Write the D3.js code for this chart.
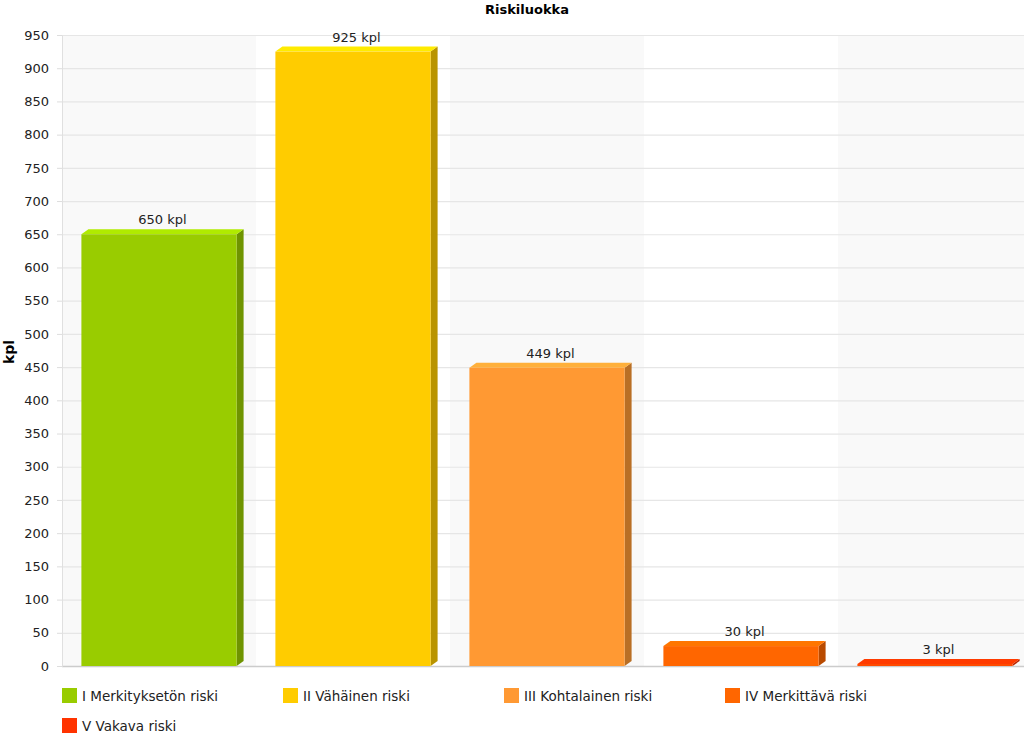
<!DOCTYPE html>
<html>
<head>
<meta charset="utf-8">
<script src="https://cdn.jsdelivr.net/npm/d3@7"></script>
<style>
  body { margin: 0; background: #fff; }
  svg { display: block; font-family: "DejaVu Sans", Verdana, sans-serif; }
</style>
</head>
<body>
<svg id="chart" width="1024" height="741"></svg>
<script>
// Riskiluokka — 3D-tyyliset pylväät
const categories = ['I Merkityksetön riski', 'II Vähäinen riski', 'III Kohtalainen riski', 'IV Merkittävä riski', 'V Vakava riski'];
const values = [650, 925, 449, 30, 3];
const colors = ['#99cc00', '#ffcc00', '#ff9933', '#ff6600', '#ff3300'];
const yTicks = d3.range(0, 951, 50);

const svg = d3.select('#chart');
const W = 1024, H = 741;
const m = { left: 62, top: 35, bottom: 666 };
const depthX = 7, depthY = 5;

const x = d3.scaleBand().domain(categories).range([m.left, 1032]).paddingInner(0.2).paddingOuter(0.1);
const y = d3.scaleLinear().domain([0, 950]).range([m.bottom, m.top]);

// vuorottelevat taustakaistat
const step = x.step();
svg.append('g').selectAll('rect')
  .data(categories)
  .join('rect')
  .attr('x', (d, i) => m.left + i * step)
  .attr('y', m.top)
  .attr('width', step)
  .attr('height', m.bottom - m.top)
  .attr('fill', (d, i) => i % 2 === 0 ? '#f9f9f9' : '#ffffff');

// ruudukko
svg.append('g').selectAll('line')
  .data(yTicks)
  .join('line')
  .attr('x1', m.left).attr('x2', W)
  .attr('y1', d => y(d) + 0.5).attr('y2', d => y(d) + 0.5)
  .attr('stroke', d => d === 0 ? '#cccccc' : '#e6e6e6')
  .attr('stroke-width', d => d === 0 ? 1.5 : 1.2);

// y-akseli
const yAxis = svg.append('g')
  .attr('transform', `translate(${m.left},0)`)
  .call(d3.axisLeft(y).tickValues(yTicks).tickSize(5).tickPadding(8));
yAxis.select('.domain').attr('stroke', '#e0e0e0');
yAxis.selectAll('.tick line').attr('stroke', '#dddddd');
yAxis.selectAll('.tick text')
  .attr('font-size', 13)
  .attr('fill', '#222')
  .attr('font-family', '"DejaVu Sans", Verdana, sans-serif');

// pylväät
const bars = svg.append('g').selectAll('g')
  .data(categories)
  .join('g');

bars.append('path') // sivu
  .attr('d', (d, i) => {
    const x1 = x(d) + x.bandwidth(), y0 = y(0), y1 = y(values[i]);
    return `M${x1},${y0} L${x1 + depthX},${y0 - depthY} L${x1 + depthX},${y1 - depthY} L${x1},${y1} Z`;
  })
  .attr('fill', (d, i) => d3.color(colors[i]).darker(0.9));

bars.append('path') // yläpinta
  .attr('d', (d, i) => {
    const x0 = x(d), x1 = x0 + x.bandwidth(), y1 = y(values[i]);
    return `M${x0},${y1} L${x0 + depthX},${y1 - depthY} L${x1 + depthX},${y1 - depthY} L${x1},${y1} Z`;
  })
  .attr('fill', (d, i) => d3.color(colors[i]).brighter(0.4));

bars.append('rect') // etupinta
  .attr('x', d => x(d))
  .attr('y', (d, i) => y(values[i]))
  .attr('width', x.bandwidth())
  .attr('height', (d, i) => y(0) - y(values[i]))
  .attr('fill', (d, i) => i === 4 ? '#ff4a00' : colors[i]);

bars.append('text')
  .attr('x', d => x(d) + x.bandwidth() / 2 + depthX / 2)
  .attr('y', (d, i) => y(values[i]) - depthY - 5)
  .attr('text-anchor', 'middle')
  .attr('font-size', 13)
  .attr('fill', '#222')
  .text((d, i) => `${values[i]} kpl`);

// otsikot
svg.append('text')
  .attr('x', 527).attr('y', 14)
  .attr('text-anchor', 'middle')
  .attr('font-size', 13).attr('font-weight', 'bold')
  .text('Riskiluokka');

svg.append('text')
  .attr('transform', 'translate(14,352) rotate(-90)')
  .attr('text-anchor', 'middle')
  .attr('font-size', 14).attr('font-weight', 'bold')
  .text('kpl');

// selite
const legend = svg.append('g').selectAll('g')
  .data(categories)
  .join('g')
  .attr('transform', (d, i) => `translate(${62 + (i % 4) * 221},${688 + Math.floor(i / 4) * 30})`);
legend.append('rect')
  .attr('width', 15).attr('height', 15)
  .attr('fill', (d, i) => colors[i]);
legend.append('text')
  .attr('x', 20).attr('y', 12.5)
  .attr('font-size', 13.5)
  .attr('fill', '#222')
  .text(d => d);
</script>
</body>
</html>
